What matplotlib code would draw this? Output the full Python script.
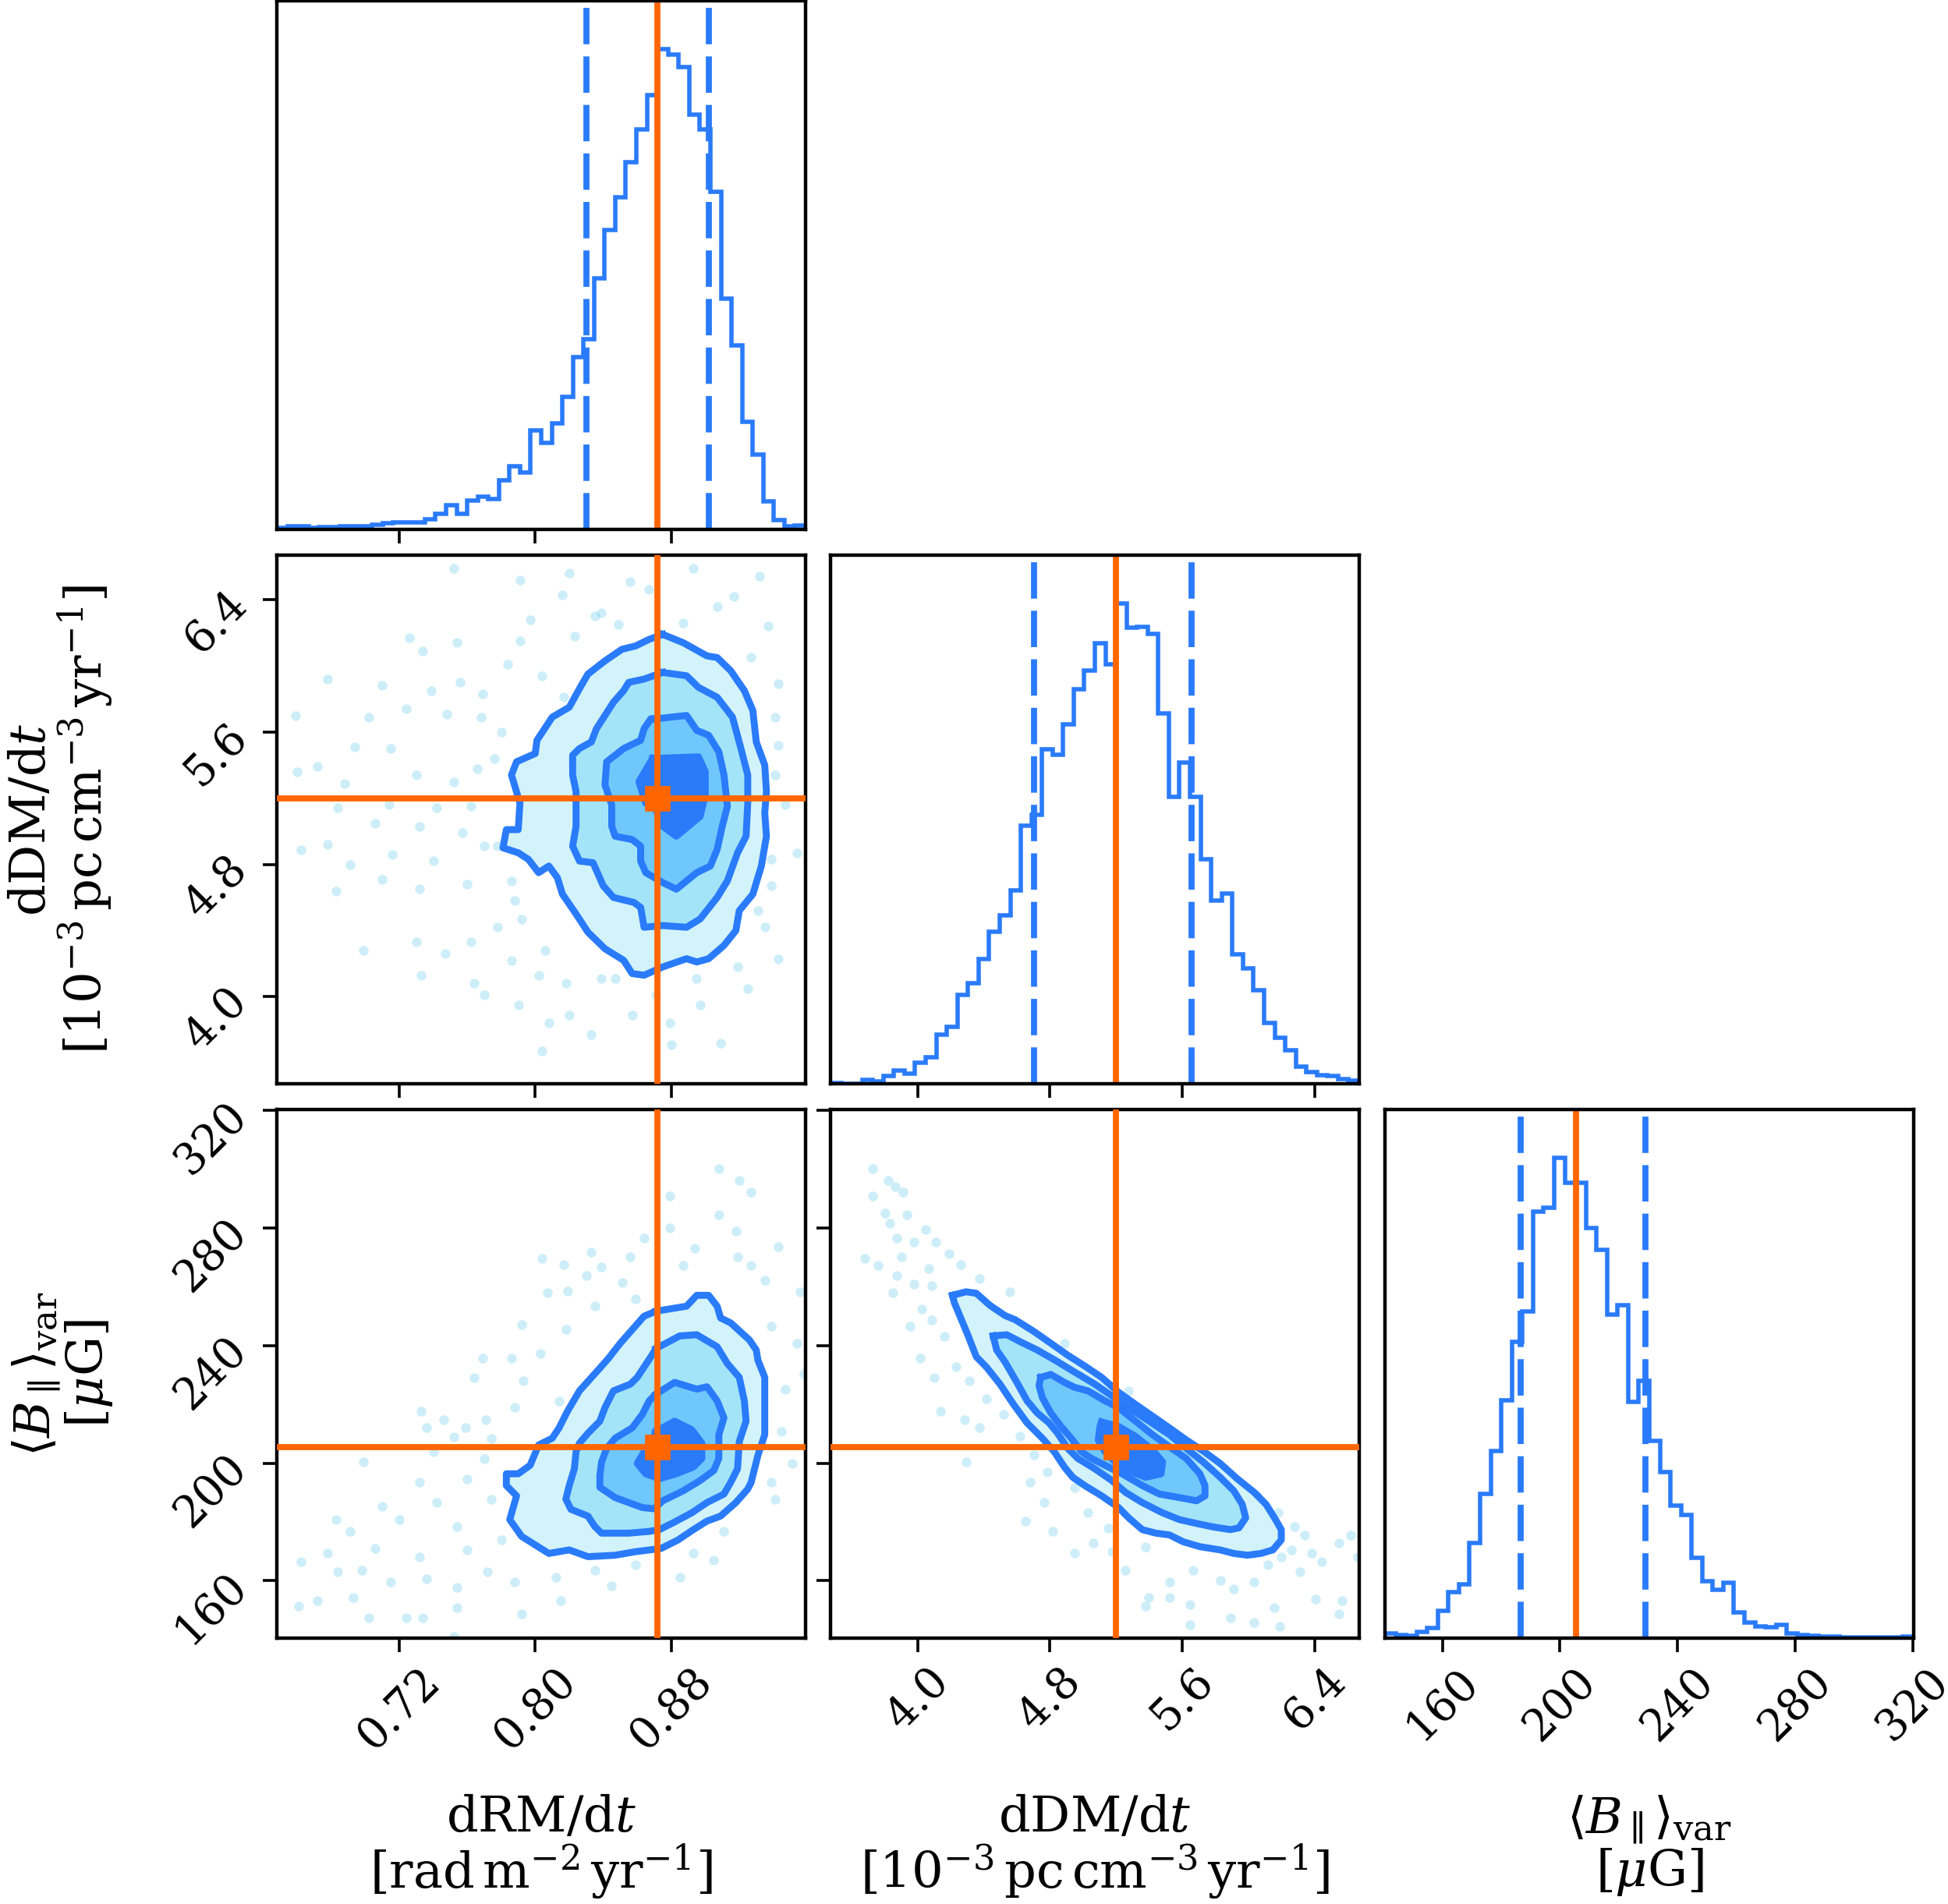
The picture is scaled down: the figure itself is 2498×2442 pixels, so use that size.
import numpy as np
import matplotlib
matplotlib.use("Agg")
import matplotlib.pyplot as plt

plt.rcParams["font.family"] = ["DejaVu Serif"]
plt.rcParams["mathtext.fontset"] = "dejavuserif"

# parameter ranges (axis limits) and tick values
drm_range = (0.648, 0.959)
ddm_range = (3.474, 6.669)
b_range = (140.5, 320.3)
drm_ticks = [0.72, 0.80, 0.88]
ddm_ticks = [4.0, 4.8, 5.6, 6.4]
b_ticks = [160, 200, 240, 280, 320]

labels = ["dRM/d$t$\n[rad$\\,$m$^{-2}\\,$yr$^{-1}$]",
          "dDM/d$t$\n[$10^{-3}\\,$pc$\\,$cm$^{-3}\\,$yr$^{-1}$]",
          "$\\langle B_\\parallel\\rangle_{\\rm var}$\n[$\\mu$G]"]

truths = [0.872, 5.20, 205.5]
quantiles = [(0.830, 0.902), (4.702, 5.654), (186.6, 229.1)]

# 1D histograms (50 bins over the axis range), counts
drm_counts = [5, 8, 8, 5, 6, 7, 8, 9, 10, 14, 17, 20, 20, 20, 28, 45, 70, 44, 83, 95,
              88, 140, 180, 163, 285, 248, 305, 380, 495, 545, 720, 858, 952, 1052, 1148,
              1245, 1378, 1362, 1325, 1190, 1148, 967, 662, 527, 308, 215, 80, 27, 8, 12]
ddm_counts = [3, 1, 1, 10, 7, 22, 38, 28, 58, 75, 138, 158, 248, 280, 347, 423, 470, 540,
              720, 750, 932, 917, 1003, 1100, 1152, 1228, 1170, 1340, 1272, 1275, 1255,
              1033, 800, 895, 800, 627, 510, 530, 360, 322, 260, 170, 128, 93, 48, 33, 25,
              22, 12, 8]
b_counts = [12, 8, 6, 17, 27, 74, 125, 145, 257, 390, 507, 644, 802, 885, 1155, 1167,
            1302, 1234, 1234, 1112, 1052, 877, 902, 639, 697, 534, 450, 360, 334, 217, 154,
            130, 149, 70, 42, 32, 29, 35, 12, 9, 7, 5, 5, 3, 3, 2, 2, 2, 2, 4]

# credible-region contours (outer -> inner)
drm_ddm_contours = [
    [(0.875, 6.19), (0.887, 6.14), (0.901, 6.06), (0.907, 6.05), (0.915, 5.97), (0.923, 5.85),
     (0.928, 5.73), (0.930, 5.54), (0.935, 5.40), (0.936, 5.24), (0.935, 5.11), (0.936, 4.97),
     (0.933, 4.79), (0.928, 4.62), (0.920, 4.52), (0.918, 4.40), (0.911, 4.31), (0.902, 4.23),
     (0.895, 4.21), (0.889, 4.23), (0.875, 4.18), (0.864, 4.13), (0.857, 4.14), (0.852, 4.22),
     (0.841, 4.29), (0.831, 4.39), (0.824, 4.50), (0.816, 4.62), (0.813, 4.72), (0.808, 4.79),
     (0.802, 4.75), (0.796, 4.83), (0.790, 4.87), (0.781, 4.90), (0.783, 5.01), (0.790, 5.01),
     (0.791, 5.17), (0.786, 5.34), (0.789, 5.42), (0.800, 5.47), (0.801, 5.55), (0.810, 5.69),
     (0.820, 5.75), (0.827, 5.88), (0.831, 5.95), (0.841, 6.03), (0.851, 6.10), (0.859, 6.12),
     (0.867, 6.16)],
    [(0.875, 5.96), (0.889, 5.94), (0.896, 5.87), (0.907, 5.81), (0.916, 5.69), (0.921, 5.50),
     (0.925, 5.34), (0.925, 5.17), (0.924, 4.97), (0.919, 4.87), (0.913, 4.70), (0.907, 4.60),
     (0.897, 4.47), (0.889, 4.42), (0.875, 4.43), (0.864, 4.42), (0.862, 4.54), (0.858, 4.57),
     (0.846, 4.60), (0.840, 4.67), (0.834, 4.81), (0.826, 4.82), (0.822, 4.91), (0.824, 5.03),
     (0.824, 5.24), (0.822, 5.34), (0.822, 5.46), (0.826, 5.50), (0.833, 5.54), (0.836, 5.62),
     (0.846, 5.78), (0.852, 5.85), (0.855, 5.90), (0.864, 5.92)],
    [(0.871, 5.68), (0.889, 5.70), (0.895, 5.61), (0.902, 5.58), (0.908, 5.48), (0.911, 5.34),
     (0.913, 5.15), (0.910, 5.03), (0.907, 4.89), (0.903, 4.79), (0.895, 4.75), (0.889, 4.70),
     (0.883, 4.65), (0.875, 4.69), (0.865, 4.75), (0.862, 4.82), (0.862, 4.91), (0.857, 4.95),
     (0.847, 4.97), (0.845, 5.03), (0.845, 5.16), (0.841, 5.28), (0.842, 5.42), (0.852, 5.50),
     (0.862, 5.55), (0.864, 5.62), (0.868, 5.68)],
    [(0.869, 5.44), (0.896, 5.45), (0.900, 5.36), (0.900, 5.22), (0.897, 5.09), (0.890, 5.03),
     (0.883, 4.97), (0.875, 5.03), (0.871, 5.13), (0.865, 5.17), (0.861, 5.30)],
]

drm_b_contours = [
    [(0.871, 251.7), (0.889, 253.4), (0.895, 257.1), (0.902, 257.1), (0.907, 253.4), (0.909, 249.4),
     (0.915, 247.7), (0.926, 241.9), (0.930, 238.5), (0.931, 235.0), (0.935, 229.2), (0.935, 216.6),
     (0.935, 209.7), (0.931, 202.7), (0.927, 193.5), (0.925, 191.2), (0.918, 186.6), (0.909, 182.0),
     (0.901, 180.3), (0.893, 177.4), (0.884, 173.9), (0.874, 171.0), (0.859, 169.9), (0.847, 168.7),
     (0.831, 168.2), (0.820, 170.5), (0.808, 169.3), (0.800, 172.2), (0.792, 175.1), (0.785, 180.8),
     (0.789, 188.9), (0.783, 192.4), (0.783, 196.4), (0.790, 196.4), (0.797, 199.3), (0.802, 206.2),
     (0.810, 208.5), (0.814, 212.0), (0.819, 217.7), (0.826, 224.6), (0.835, 230.4), (0.843, 235.6),
     (0.850, 240.8), (0.857, 245.4), (0.864, 250.0)],
    [(0.871, 239.0), (0.885, 243.3), (0.895, 243.7), (0.907, 239.6), (0.913, 233.9), (0.920, 229.2),
     (0.923, 221.2), (0.924, 214.3), (0.920, 207.3), (0.919, 198.1), (0.915, 193.5), (0.911, 189.5),
     (0.901, 186.6), (0.892, 183.1), (0.881, 179.7), (0.873, 177.4), (0.867, 176.8), (0.855, 176.2),
     (0.839, 176.2), (0.835, 178.5), (0.831, 182.0), (0.821, 184.3), (0.818, 187.8), (0.820, 192.4),
     (0.823, 198.1), (0.824, 203.9), (0.826, 206.8), (0.831, 210.2), (0.838, 214.3), (0.841, 218.9),
     (0.846, 224.6), (0.856, 226.9), (0.860, 229.2), (0.864, 232.7), (0.868, 236.2)],
    [(0.871, 223.5), (0.882, 227.5), (0.895, 225.2), (0.901, 226.0), (0.907, 221.2), (0.911, 215.4),
     (0.908, 209.7), (0.908, 201.6), (0.905, 197.5), (0.897, 194.1), (0.887, 190.6), (0.875, 187.2),
     (0.870, 184.5), (0.863, 184.9), (0.855, 186.6), (0.847, 188.3), (0.838, 191.8), (0.838, 195.8),
     (0.839, 200.4), (0.842, 205.0), (0.847, 208.5), (0.857, 212.0), (0.863, 216.6), (0.867, 221.2)],
    [(0.871, 210.8), (0.882, 214.3), (0.892, 211.4), (0.898, 206.8), (0.898, 201.6), (0.893, 198.7),
     (0.883, 196.4), (0.873, 194.7), (0.865, 196.4), (0.860, 199.9), (0.864, 203.9), (0.869, 207.9)],
]

ddm_b_contours = [
    [(4.211, 257.1), (4.293, 258.3), (4.355, 257.8), (4.437, 253.7), (4.529, 250.2), (4.590, 248.8),
     (4.703, 244.8), (4.805, 240.8), (4.908, 236.7), (5.020, 232.7), (5.112, 229.2), (5.215, 224.1),
     (5.317, 220.0), (5.420, 216.0), (5.522, 212.0), (5.624, 207.9), (5.727, 204.1), (5.829, 199.9),
     (5.932, 194.7), (6.034, 190.1), (6.106, 186.0), (6.157, 181.4), (6.198, 177.4), (6.198, 173.9),
     (6.147, 170.5), (6.075, 169.3), (5.993, 168.7), (5.911, 169.3), (5.829, 170.5), (5.706, 171.6),
     (5.604, 173.3), (5.522, 175.6), (5.440, 176.2), (5.358, 177.4), (5.276, 181.4), (5.215, 184.9),
     (5.112, 188.9), (5.010, 192.4), (4.938, 195.2), (4.887, 198.7), (4.826, 203.9), (4.754, 208.5),
     (4.662, 213.7), (4.580, 220.0), (4.498, 226.9), (4.416, 232.7), (4.355, 236.2), (4.303, 243.7),
     (4.252, 250.6), (4.222, 254.6)],
    [(4.457, 243.3), (4.539, 243.7), (4.621, 241.3), (4.723, 238.5), (4.826, 235.2), (4.949, 231.0),
     (5.071, 226.9), (5.174, 222.9), (5.276, 218.9), (5.399, 214.3), (5.522, 209.7), (5.624, 205.0),
     (5.727, 200.4), (5.829, 195.2), (5.911, 190.6), (5.962, 186.0), (5.983, 181.4), (5.942, 178.0),
     (5.891, 177.4), (5.788, 178.3), (5.686, 179.5), (5.583, 180.8), (5.481, 183.1), (5.358, 186.6),
     (5.256, 190.1), (5.174, 194.1), (5.071, 198.1), (4.969, 201.6), (4.908, 205.0), (4.846, 210.2),
     (4.795, 213.7), (4.723, 217.1), (4.662, 221.2), (4.600, 227.5), (4.529, 234.4), (4.478, 238.5)],
    [(4.744, 229.2), (4.805, 230.2), (4.887, 227.5), (4.949, 225.8), (5.030, 224.6), (5.133, 221.2),
     (5.215, 218.9), (5.317, 214.3), (5.420, 209.7), (5.522, 205.6), (5.624, 201.6), (5.706, 196.4),
     (5.737, 192.4), (5.737, 188.9), (5.686, 187.2), (5.583, 188.3), (5.461, 189.5), (5.358, 192.4),
     (5.235, 196.4), (5.153, 198.7), (5.051, 201.6), (4.990, 203.9), (4.928, 208.5), (4.867, 212.5),
     (4.805, 217.1), (4.754, 222.3), (4.734, 226.4)],
    [(5.112, 214.0), (5.215, 212.5), (5.317, 209.1), (5.420, 204.5), (5.481, 200.4), (5.471, 196.4),
     (5.379, 195.2), (5.276, 197.5), (5.194, 200.4), (5.133, 203.9), (5.092, 207.9), (5.102, 212.5)],
]

# individual samples visible outside the contours
drm_ddm_points = [
    (0.752, 6.59), (0.820, 6.56), (0.791, 6.52), (0.856, 6.51), (0.893, 6.59), (0.932, 6.54),
    (0.816, 6.43), (0.835, 6.30), (0.797, 6.28), (0.849, 6.25), (0.887, 6.26), (0.937, 6.24),
    (0.791, 6.15), (0.754, 6.14), (0.726, 6.17), (0.734, 6.09), (0.678, 5.92), (0.710, 5.88),
    (0.739, 5.85), (0.756, 5.90), (0.769, 5.83), (0.784, 6.01), (0.804, 5.94), (0.943, 5.89),
    (0.659, 5.70), (0.702, 5.69), (0.724, 5.74), (0.748, 5.71), (0.768, 5.69), (0.694, 5.51),
    (0.715, 5.50), (0.660, 5.36), (0.672, 5.39), (0.688, 5.29), (0.730, 5.34), (0.752, 5.30),
    (0.766, 5.38), (0.684, 5.14), (0.714, 5.16), (0.742, 5.14), (0.762, 5.15), (0.947, 5.16),
    (0.706, 5.05), (0.732, 5.03), (0.757, 4.99), (0.662, 4.89), (0.678, 4.92), (0.716, 4.86),
    (0.691, 4.80), (0.740, 4.82), (0.770, 4.91), (0.683, 4.64), (0.710, 4.71), (0.732, 4.65),
    (0.760, 4.68), (0.786, 4.70), (0.954, 4.87), (0.939, 4.67), (0.730, 4.33), (0.699, 4.28),
    (0.747, 4.26), (0.762, 4.33), (0.778, 4.42), (0.792, 4.47), (0.806, 4.28), (0.935, 4.42),
    (0.943, 4.23), (0.733, 4.13), (0.764, 4.08), (0.786, 4.22), (0.802, 4.13), (0.818, 4.08),
    (0.839, 4.11), (0.919, 4.18), (0.925, 4.05), (0.770, 4.01), (0.790, 3.95), (0.808, 3.84),
    (0.820, 3.89), (0.833, 3.77), (0.857, 3.89), (0.879, 3.84), (0.897, 3.95), (0.909, 3.72),
    (0.804, 3.67), (0.880, 3.71), (0.907, 6.36), (0.917, 6.42), (0.867, 6.46), (0.839, 6.32),
    (0.823, 6.18), (0.927, 6.05), (0.941, 5.69), (0.943, 5.52), (0.941, 5.34), (0.939, 4.83),
    (0.931, 4.52), (0.788, 4.58), (0.778, 4.91), (0.776, 5.44), (0.780, 5.60), (0.817, 5.81),
    (0.847, 4.11), (0.871, 4.01), (0.895, 4.11),
]

drm_b_points = [
    (0.908, 300.1), (0.920, 296.1), (0.927, 292.1), (0.879, 290.9), (0.908, 284.6), (0.879, 280.0),
    (0.918, 279.0), (0.864, 276.5), (0.943, 273.6), (0.894, 273.0), (0.833, 271.9), (0.856, 270.2),
    (0.919, 270.2), (0.804, 269.6), (0.817, 267.5), (0.887, 267.3), (0.839, 266.7), (0.927, 267.3),
    (0.830, 263.8), (0.851, 261.5), (0.935, 262.1), (0.807, 258.1), (0.819, 258.6), (0.956, 258.3),
    (0.835, 253.4), (0.859, 255.8), (0.792, 247.1), (0.818, 245.4), (0.939, 246.5), (0.954, 240.8),
    (0.769, 235.6), (0.786, 235.6), (0.803, 237.3), (0.764, 229.2), (0.793, 228.1), (0.958, 230.4),
    (0.947, 225.2), (0.814, 221.2), (0.788, 218.9), (0.733, 217.7), (0.746, 214.8), (0.771, 214.8),
    (0.736, 212.0), (0.759, 212.0), (0.945, 210.8), (0.752, 208.9), (0.774, 208.5), (0.699, 200.4),
    (0.740, 203.9), (0.951, 199.9), (0.770, 201.6), (0.732, 193.5), (0.760, 194.7), (0.939, 193.5),
    (0.710, 185.4), (0.742, 186.6), (0.774, 187.8), (0.683, 180.8), (0.720, 180.8), (0.754, 178.5),
    (0.691, 176.8), (0.941, 187.8), (0.911, 176.8), (0.662, 166.4), (0.678, 169.3), (0.706, 171.0),
    (0.732, 168.2), (0.760, 170.5), (0.780, 173.9), (0.684, 163.0), (0.698, 163.5), (0.715, 159.5),
    (0.736, 160.7), (0.754, 157.8), (0.772, 163.0), (0.788, 159.5), (0.812, 161.2), (0.835, 163.5),
    (0.859, 165.3), (0.893, 169.3), (0.905, 167.0), (0.661, 151.5), (0.672, 153.2), (0.693, 154.3),
    (0.702, 147.4), (0.724, 147.4), (0.734, 147.4), (0.754, 150.9), (0.792, 148.6), (0.815, 153.2),
    (0.845, 158.4), (0.885, 161.2), (0.752, 141.1),
]

ddm_b_points = [
    (3.730, 300.1), (3.822, 296.3), (3.863, 294.0), (3.914, 292.1), (3.730, 290.9), (3.802, 285.1),
    (3.935, 284.6), (3.832, 281.7), (4.047, 279.4), (3.873, 276.5), (3.976, 275.3), (4.109, 275.3),
    (3.679, 269.6), (3.904, 270.2), (4.191, 271.3), (3.761, 267.3), (4.068, 266.1), (4.262, 267.5),
    (3.873, 263.8), (3.976, 260.9), (4.088, 260.4), (3.853, 258.1), (4.375, 262.7), (4.559, 258.3),
    (4.027, 252.3), (3.955, 246.5), (4.088, 248.8), (4.160, 243.1), (4.887, 240.8), (4.017, 235.6),
    (4.099, 229.2), (4.232, 232.7), (4.314, 228.1), (4.416, 221.8), (4.140, 217.7), (4.283, 214.8),
    (4.375, 212.0), (4.518, 216.6), (4.621, 209.1), (4.293, 200.4), (4.703, 202.7), (4.785, 197.0),
    (4.682, 193.5), (4.764, 186.6), (4.949, 191.8), (4.652, 180.3), (4.815, 176.8), (5.030, 183.1),
    (5.153, 178.0), (5.276, 224.6), (6.054, 188.9), (6.177, 183.1), (6.280, 178.5), (6.341, 175.6),
    (4.949, 169.3), (5.061, 172.8), (5.174, 169.9), (5.256, 163.5), (5.379, 171.6), (5.522, 159.5),
    (5.665, 163.5), (5.829, 160.1), (5.911, 157.2), (6.034, 159.5), (6.116, 165.3), (6.198, 168.2),
    (6.259, 170.5), (6.311, 163.0), (6.382, 169.3), (6.444, 166.4), (6.546, 172.8), (6.618, 175.6),
    (6.659, 168.2), (6.567, 153.2), (6.403, 153.8), (6.546, 148.6), (6.157, 150.9), (5.891, 147.4),
    (5.645, 152.0), (5.379, 151.5), (5.522, 154.3), (6.034, 145.7), (6.188, 144.5), (5.645, 145.1),
    (5.399, 154.3),
]

BLUE = "#2a7bfa"
ORANGE = "#ff6600"
FILLS = ["#d3f3fa", "#a4e4f8", "#70c7fb", "#2a7bfa"]
DOT = "#5bc8e8"

ranges = [drm_range, ddm_range, b_range]
ticks = [drm_ticks, ddm_ticks, b_ticks]
counts = [drm_counts, ddm_counts, b_counts]
pairs = {(1, 0): (drm_ddm_contours, drm_ddm_points),
         (2, 0): (drm_b_contours, drm_b_points),
         (2, 1): (ddm_b_contours, ddm_b_points)}

W, H, DPI = 2498, 2442, 200
fig = plt.figure(figsize=(W / DPI, H / DPI), dpi=DPI)
col_left = [355, 1065, 1776]
row_top = [1, 712, 1423]
size = 678
FS = 23
TFS = 20

for i in range(3):
    for j in range(i + 1):
        ax = fig.add_axes([col_left[j] / W, 1 - (row_top[i] + size) / H, size / W, size / H])
        for s in ax.spines.values():
            s.set_linewidth(1.6)
        ax.tick_params(direction="out", length=6.5, width=1.3, labelsize=TFS)
        ax.set_xlim(*ranges[j])
        ax.set_xticks(ticks[j])

        if i == j:
            edges = np.linspace(ranges[i][0], ranges[i][1], len(counts[i]) + 1)
            ax.stairs(counts[i], edges, color=BLUE, lw=2.0)
            ax.set_ylim(0, 1.1 * max(counts[i]))
            ax.set_yticks([])
            for q in quantiles[i]:
                ax.axvline(q, color=BLUE, lw=2.8, ls=(0, (6.0, 2.0)))
            ax.axvline(truths[i], color=ORANGE, lw=2.8)
        else:
            contours, points = pairs[(i, j)]
            pts = np.array(points)
            ax.plot(pts[:, 0], pts[:, 1], "o", color=DOT, ms=4.5, mec="none",
                    alpha=0.3, zorder=1)
            for poly, fc in zip(contours, FILLS):
                p = np.array(poly + [poly[0]])
                ax.fill(p[:, 0], p[:, 1], color=fc, lw=0, zorder=2)
            for poly in contours:
                p = np.array(poly + [poly[0]])
                ax.plot(p[:, 0], p[:, 1], color=BLUE, lw=3.2, zorder=3)
            ax.set_ylim(*ranges[i])
            ax.set_yticks(ticks[i])
            ax.axvline(truths[j], color=ORANGE, lw=2.8, zorder=4)
            ax.axhline(truths[i], color=ORANGE, lw=2.8, zorder=4)
            ax.plot(truths[j], truths[i], "s", color=ORANGE, ms=10.5, zorder=5)
            if j == 0:
                ax.tick_params(axis="y", labelrotation=45)
                ax.set_ylabel(labels[i], fontsize=FS, linespacing=1.0)
                ax.yaxis.set_label_coords(-0.307, 0.5)
            else:
                ax.set_yticklabels([])

        if i == 2:
            ax.tick_params(axis="x", labelrotation=45)
            ax.set_xlabel(labels[j], fontsize=FS, linespacing=1.0)
            ax.xaxis.set_label_coords(0.5, -0.295)
        else:
            ax.set_xticklabels([])

fig.savefig("out.png", dpi=DPI)
